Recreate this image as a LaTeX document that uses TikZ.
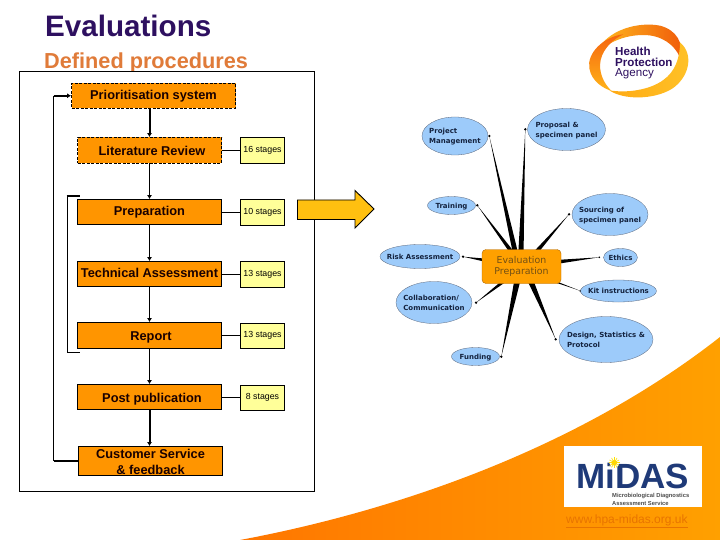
\documentclass[tikz,border=0pt]{standalone}
\usepackage{fontspec}
\setmainfont{Liberation Sans}
\newfontfamily\mapfont{DejaVu Sans}
\usetikzlibrary{shapes.geometric,arrows.meta,calc}
\definecolor{boxorange}{HTML}{FF9500}
\definecolor{stagey}{HTML}{FFFF99}
\definecolor{bubble}{HTML}{9DCBFA}
\definecolor{hpapurple}{HTML}{2E1060}
\definecolor{subt}{HTML}{E07B39}
\definecolor{mapink}{HTML}{14233F}
\definecolor{midasblue}{HTML}{1F3A78}
\tikzset{
 stagebox/.style={draw=black,line width=.8pt,fill=boxorange,inner sep=0pt,align=center,text=black!90!red,
   font=\fontsize{12.8}{16}\selectfont\bfseries},
 dashbox/.style={stagebox,dashed,dash pattern=on 3pt off 1.5pt},
 countbox/.style={draw=black,line width=.8pt,fill=stagey,inner sep=0pt,minimum width=44pt,minimum height=25.5pt,
   font=\fontsize{8.8}{10}\selectfont},
 flowthin/.style={line width=.9pt,-{Latex[length=4pt,width=5pt]}},
 flowthick/.style={line width=2pt,-{Latex[length=4pt,width=5pt]}},
 link/.style={line width=.9pt},
 bubblenode/.style={ellipse,draw=mapink!70,line width=.3pt,fill=bubble,inner sep=0pt,text=mapink,
   font=\mapfont\fontsize{7}{10.2}\selectfont\bfseries},
 tipdot/.style={circle,fill=black,inner sep=0pt,minimum size=2.6pt},
}
\newcommand{\spokeV}[3]{\fill[black] ([xshift=-#3pt]#1) -- (#2.center) -- ([xshift=#3pt]#1) -- cycle;}
\newcommand{\spokeH}[3]{\fill[black] ([yshift=-#3pt]#1) -- (#2.center) -- ([yshift=#3pt]#1) -- cycle;}
\newcommand{\lowered}[2]{\raisebox{-#1pt}[\height][\depth]{#2}}
\newcommand{\btext}[1]{\smash{\makebox[0pt]{\raisebox{-2.5pt}{\begin{tabular}{@{}l@{}}#1\end{tabular}}}}}
\begin{document}
\begin{tikzpicture}[x=1pt,y=-1pt]
\useasboundingbox (0,0) rectangle (720,540);
\fill[white] (0,0) rectangle (720,540);
% orange sweep
\path[left color={rgb,255:red,255;green,118;blue,0},right color={rgb,255:red,255;green,160;blue,0}]
  (240,540) .. controls (400,510) and (580,447) .. (720,337) -- (720,540) -- cycle;
% titles
\node[anchor=base west,inner sep=0pt,text=hpapurple,font=\fontsize{29.6}{32}\selectfont\bfseries] (title) at (45,37) {Evaluations};
\node[anchor=base west,inner sep=0pt,text=subt,font=\fontsize{21.7}{24}\selectfont\bfseries] (subtitle) at (44,69) {Defined procedures};
% frame
\node[draw=black,line width=.9pt,fill=white,inner sep=0pt,minimum width=295pt,minimum height=419.5pt] (frame) at (167,281.25) {};
% flow boxes
\node[dashbox,minimum width=164pt,minimum height=24.5pt] (prior) at (153.5,95.75) {Prioritisation system};
\node[dashbox,minimum width=144pt,minimum height=25.5pt] (lit) at (149.5,150.25) {\hspace*{5pt}\lowered{1}{Literature Review}};
\node[stagebox,minimum width=144pt,minimum height=25pt] (prep) at (149.5,212) {Preparation};
\node[stagebox,minimum width=144pt,minimum height=25pt] (tech) at (149.5,274) {\lowered{-1}{Technical Assessment}};
\node[stagebox,minimum width=144pt,minimum height=25.5pt] (rep) at (149.5,335.25) {\hspace*{3pt}\lowered{2}{Report}};
\node[stagebox,minimum width=144pt,minimum height=25pt] (post) at (149.5,397) {\hspace*{5pt}\lowered{2}{Post publication}};
\node[stagebox,minimum width=144pt,minimum height=28.5pt] (cust) at (150.5,460.75) {\lowered{1.5}{Customer Service}\\\lowered{1.5}{\& feedback}};
% count boxes
\node[countbox] (c1) at (262.5,150.5) {16 stages};
\node[countbox] (c2) at (262.5,212.5) {10 stages};
\node[countbox] (c3) at (262.5,274.25) {13 stages};
\node[countbox] (c4) at (262.5,335.75) {13 stages};
\node[countbox] (c5) at (262.5,397.75) {8 stages};
\foreach \a/\b in {lit/c1,prep/c2,tech/c3,rep/c4,post/c5}{\draw[link] (\a.east) -- (\a.east -| \b.west);}
% flow arrows
\draw[flowthick] (lit.north |- prior.south) -- (lit.north);
\draw[flowthin] (lit) -- (prep);
\draw[flowthin] (prep) -- (tech);
\draw[flowthin] (tech) -- (rep);
\draw[flowthin] (rep) -- (post);
\draw[flowthick] (post.south) -- (post.south |- cust.north);
% outer return
\coordinate (oa) at (53.5,460.75);
\coordinate (ob) at (53.5,95.75);
\draw[line width=2pt] (cust.west) -- (oa);
\draw[line width=.9pt] (oa) -- (ob);
\draw[line width=1.6pt,-{Latex[length=4pt,width=5pt]}] (ob) -- (prior.west);
% inner bracket
\coordinate (ia) at (66.5,196);
\coordinate (ib) at (67.5,196);
\coordinate (ic) at (67.5,352.5);
\coordinate (id) at (80,352.5);
\coordinate (ie) at (80,196);
\draw[line width=1.6pt] (ia) -- (ie);
\draw[line width=.9pt] (ib) -- (ic) -- (id);
% block arrow
\draw[black,line width=.9pt,fill={rgb,255:red,255;green,192;blue,16}] (297.5,200) -- (355,200) -- (355,190.5) -- (374,209) -- (355,228) -- (355,219.5) -- (297.5,219.5) -- cycle;
% mind map: tips
\node[tipdot] (d1) at (489.3,136) {};
\node[tipdot] (d2) at (525.3,129.3) {};
\node[tipdot] (d3) at (477.3,205.3) {};
\node[tipdot] (d4) at (569,214.3) {};
\node[tipdot,minimum size=1.8pt] (d5) at (599.3,257.3) {};
\node[tipdot] (d6) at (463,256.7) {};
\node[tipdot] (d7) at (580.7,291) {};
\node[tipdot] (d8) at (476,302.7) {};
\node[tipdot] (d9) at (555.7,339.3) {};
\node[tipdot] (d10) at (501.3,356.7) {};
% bases
\coordinate (b1) at (515,251);
\coordinate (b2) at (521,251);
\coordinate (b3) at (511,251);
\coordinate (b4) at (537,251);
\coordinate (b5) at (559,261.7);
\coordinate (b6) at (484,260);
\coordinate (b7) at (556,282);
\coordinate (b8) at (503,282);
\coordinate (b9) at (531,282);
\coordinate (b10) at (517,282);
\spokeV{b1}{d1}{2.6}
\spokeV{b2}{d2}{2.6}
\spokeV{b3}{d3}{2.4}
\spokeV{b4}{d4}{2.6}
\spokeH{b5}{d5}{1.9}
\spokeH{b6}{d6}{1.5}
\spokeV{b7}{d7}{2}
\spokeV{b8}{d8}{2.6}
\spokeV{b9}{d9}{3}
\spokeV{b10}{d10}{3}
% bubbles
\node[bubblenode,minimum width=66pt,minimum height=38pt] (n1) at (455,136) {\btext{Project\\Management}};
\node[bubblenode,minimum width=78pt,minimum height=42pt] (n2) at (566.5,129.5) {\btext{Proposal \&\\specimen panel}};
\node[bubblenode,minimum width=48pt,minimum height=18pt] (n3) at (451.5,205.5) {\btext{Training}};
\node[bubblenode,minimum width=76pt,minimum height=42pt] (n4) at (610,214.5) {\btext{Sourcing of\\specimen panel}};
\node[bubblenode,minimum width=34pt,minimum height=18pt] (n5) at (620.5,257.5) {\btext{Ethics}};
\node[bubblenode,minimum width=80pt,minimum height=24pt] (n6) at (420,256.5) {\btext{Risk Assessment}};
\node[bubblenode,minimum width=76pt,minimum height=22pt] (n7) at (618.5,291) {\btext{Kit instructions}};
\node[bubblenode,minimum width=76pt,minimum height=42pt] (n8) at (434,302.5) {\btext{Collaboration/\\Communication}};
\node[bubblenode,minimum width=94pt,minimum height=46pt] (n9) at (606,339.5) {\btext{Design, Statistics \&\\Protocol}};
\node[bubblenode,minimum width=48pt,minimum height=18pt] (n10) at (475.5,356.5) {\btext{Funding}};
\node[draw=boxorange!70!black,line width=.4pt,fill=boxorange!90!yellow,rounded corners=4pt,inner sep=0pt,minimum width=79pt,minimum height=34pt,align=center,
  text={rgb,255:red,115;green,80;blue,20},font=\mapfont\fontsize{9.4}{11.6}\selectfont] (hub) at (521.5,266.5) {Evaluation\\Preparation};
% HPA logo
\begin{scope}[shift={(580,15)},x=.3333pt,y=-.3333pt]
 \path[left color={rgb,255:red,255;green,190;blue,30},right color={rgb,255:red,240;green,90;blue,10}]
   (45,118) .. controls (80,40) and (180,20) .. (240,32) .. controls (290,45) and (312,85) .. (300,128)
   .. controls (285,90) and (245,60) .. (190,60) .. controls (130,60) and (80,85) .. (45,118) -- cycle;
 \path[left color={rgb,255:red,255;green,170;blue,20},right color={rgb,255:red,255;green,195;blue,40}]
   (300,82) .. controls (345,120) and (325,190) .. (275,222) .. controls (220,255) and (130,255) .. (88,226)
   .. controls (140,235) and (210,225) .. (250,195) .. controls (285,170) and (300,130) .. (300,82) -- cycle;
 \path[top color={rgb,255:red,245;green,100;blue,15},bottom color={rgb,255:red,255;green,180;blue,25}]
   (130,58) .. controls (70,65) and (20,115) .. (28,160) .. controls (35,200) and (70,220) .. (95,228)
   .. controls (70,205) and (55,170) .. (62,135) .. controls (70,100) and (100,72) .. (130,58) -- cycle;
\end{scope}
\node[anchor=base west,inner sep=0pt,text=hpapurple,font=\fontsize{11.6}{11}\selectfont\bfseries] (hl1) at (615,55.5) {Health};
\node[anchor=base west,inner sep=0pt,text=hpapurple,font=\fontsize{11.6}{11}\selectfont\bfseries] (hl2) at (615,66.5) {Protection};
\node[anchor=base west,inner sep=0pt,text=hpapurple,font=\fontsize{11.6}{11}\selectfont] (hl3) at (615,76.7) {Agency};
% MiDAS
\node[fill=white,inner sep=0pt,minimum width=138pt,minimum height=61pt] (midas) at (633,476.5) {};
\node[anchor=base west,inner sep=0pt,text=midasblue,text depth=0pt,font=\fontsize{35}{35}\selectfont\bfseries] (midasname) at (576,488.3) {MiDAS};
\fill[white] (614.3,462.7) circle (5pt);
\foreach \r in {0,30,...,330}{\draw[yellow!85!orange,line width=.6pt] (614.3,462.7) -- ++(\r:5.5);}
\fill[yellow!75!orange] (614.3,462.7) circle (2.8pt);
\node[anchor=base west,inner sep=0pt,text=black!70,align=left,font=\fontsize{5.8}{7.5}\selectfont\bfseries] (midassub) at (612,505) {Microbiological Diagnostics\\Assessment Service};
\node[anchor=base west,inner sep=0pt,text={rgb,255:red,232;green,116;blue,0},font=\fontsize{12}{12}\selectfont] (url) at (566,523.5) {\underline{www.hpa-midas.org.uk}};
\end{tikzpicture}
\end{document}
